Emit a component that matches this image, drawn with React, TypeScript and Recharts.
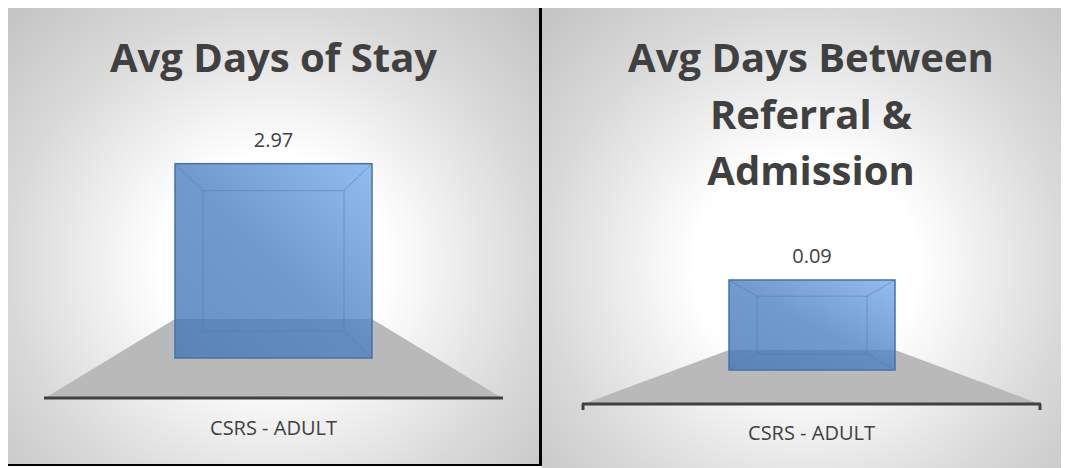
import { BarChart, Bar, XAxis, YAxis, LabelList } from "recharts";

// left chart
const stayTitle = ["Avg Days of Stay"];
const stayCategories = ["CSRS - ADULT"];
const stayValues = [2.97];

// right chart
const referralTitle = ["Avg Days Between", "Referral &", "Admission"];
const referralCategories = ["CSRS - ADULT"];
const referralValues = [0.09];

const FONT = '"Open Sans", sans-serif';
const INK = "#404040";
const PANEL_BG =
  "radial-gradient(ellipse farthest-corner at 50% 56%, #ffffff 0%, #ffffff 30%, #d9d9d9 70%, #c3c3c3 100%)";

type Geo = {
  id: string;
  left: number;
  width: number;
  margin: { top: number; right: number; bottom: number; left: number };
  max: number;
  barSize: number;
  back: number;
  front: number;
  ends: boolean;
  labelY: number;
};

const stayGeo: Geo = {
  id: "stay",
  left: 0,
  width: 542,
  margin: { top: 129, right: 40, bottom: 80, left: 45 },
  max: 3.5,
  barSize: 197,
  back: 39,
  front: 40,
  ends: false,
  labelY: 435,
};

const referralGeo: Geo = {
  id: "ref",
  left: 542,
  width: 527,
  margin: { top: 270, right: 29, bottom: 68, left: 41 },
  max: 0.1,
  barSize: 166,
  back: 20,
  front: 34,
  ends: true,
  labelY: 440,
};

function Chart3D({ cats, vals, g }: { cats: string[]; vals: number[]; g: Geo }) {
  const data = cats.map((c, i) => ({ cat: c, v: vals[i] }));
  const plotL = g.margin.left;
  const plotR = g.width - g.margin.right;

  const Shape = (p: any) => {
    const { x, y, width: w, height: h } = p;
    const base = y + h;
    const bY = base - g.back;
    const fY = base + g.front;
    const ix = 28;
    const iy = Math.min(27, h * 0.18);
    const gid = "bar-grad-" + g.id;
    return (
      <g>
        <defs>
          <linearGradient id={gid} x1="1" y1="0" x2="0" y2="1">
            <stop offset="0" stopColor="#78acec" />
            <stop offset="0.5" stopColor="#4d82c3" />
            <stop offset="1" stopColor="#4476b7" />
          </linearGradient>
        </defs>
        <polygon
          points={`${plotL},${fY} ${plotR},${fY} ${x + w},${bY} ${x},${bY}`}
          fill="#b9b9b9"
        />
        <line x1={plotL - 1} x2={plotR + 1} y1={fY} y2={fY} stroke={INK} strokeWidth={3} />
        {g.ends && (
          <>
            <line x1={plotL} x2={plotL} y1={fY} y2={fY + 6} stroke={INK} strokeWidth={3} />
            <line x1={plotR} x2={plotR} y1={fY} y2={fY + 6} stroke={INK} strokeWidth={3} />
          </>
        )}
        <rect x={x} y={y} width={w} height={h} fill={`url(#${gid})`} fillOpacity={0.8} />
        <g stroke="#4f7db6" strokeOpacity={0.55} strokeWidth={1} fill="none">
          <rect x={x + ix} y={y + iy} width={w - 2 * ix} height={h - 2 * iy} />
          <line x1={x} y1={y} x2={x + ix} y2={y + iy} />
          <line x1={x + w} y1={y} x2={x + w - ix} y2={y + iy} />
          <line x1={x} y1={base} x2={x + ix} y2={base - iy} />
          <line x1={x + w} y1={base} x2={x + w - ix} y2={base - iy} />
        </g>
        <rect x={x} y={y} width={w} height={h} fill="none" stroke="#4672aa" strokeWidth={1.5} />
      </g>
    );
  };

  const Tick = (p: any) => (
    <text
      x={p.x}
      y={g.labelY}
      textAnchor="middle"
      fontFamily={FONT}
      fontSize={20}
      fill={INK}
    >
      {p.payload.value}
    </text>
  );

  return (
    <div style={{ position: "absolute", left: g.left, top: 0 }}>
      <BarChart width={g.width} height={468} data={data} margin={g.margin}>
        <XAxis
          dataKey="cat"
          height={30}
          axisLine={false}
          tickLine={false}
          tickSize={0}
          interval={0}
          tick={Tick}
        />
        <YAxis hide domain={[0, g.max]} />
        <Bar dataKey="v" barSize={g.barSize} isAnimationActive={false} shape={Shape}>
          <LabelList
            dataKey="v"
            position="top"
            offset={17}
            formatter={(v: any) => Number(v).toFixed(2)}
            style={{ fontFamily: FONT, fontSize: 20, fill: INK }}
          />
        </Bar>
      </BarChart>
    </div>
  );
}

function Title({ lines, left, width }: { lines: string[]; left: number; width: number }) {
  return (
    <div
      style={{
        position: "absolute",
        left,
        top: 29,
        width,
        textAlign: "center",
        fontFamily: FONT,
        fontWeight: 700,
        fontSize: 40,
        lineHeight: "56.5px",
        color: INK,
        whiteSpace: "nowrap",
      }}
    >
      {lines.map((l) => (
        <div key={l}>{l}</div>
      ))}
    </div>
  );
}

export default function App() {
  return (
    <div
      style={{
        position: "relative",
        width: 1069,
        height: 468,
        margin: "-8px 0 0 -8px",
        overflow: "hidden",
        background: "#ffffff",
      }}
    >
      <div
        style={{
          position: "absolute",
          left: 5,
          top: 6,
          width: 537,
          height: 460,
          boxSizing: "border-box",
          borderLeft: "2px solid #000",
          borderTop: "2px solid #000",
          borderBottom: "2px solid #000",
          borderRight: "3px solid #000",
          background: PANEL_BG,
        }}
      />
      <div
        style={{
          position: "absolute",
          left: 542,
          top: 6,
          width: 527,
          height: 462,
          boxSizing: "border-box",
          borderTop: "2px solid #000",
          background: PANEL_BG,
        }}
      />
      <Title lines={stayTitle} left={5} width={537} />
      <Title lines={referralTitle} left={542} width={538} />
      <Chart3D cats={stayCategories} vals={stayValues} g={stayGeo} />
      <Chart3D cats={referralCategories} vals={referralValues} g={referralGeo} />
    </div>
  );
}
